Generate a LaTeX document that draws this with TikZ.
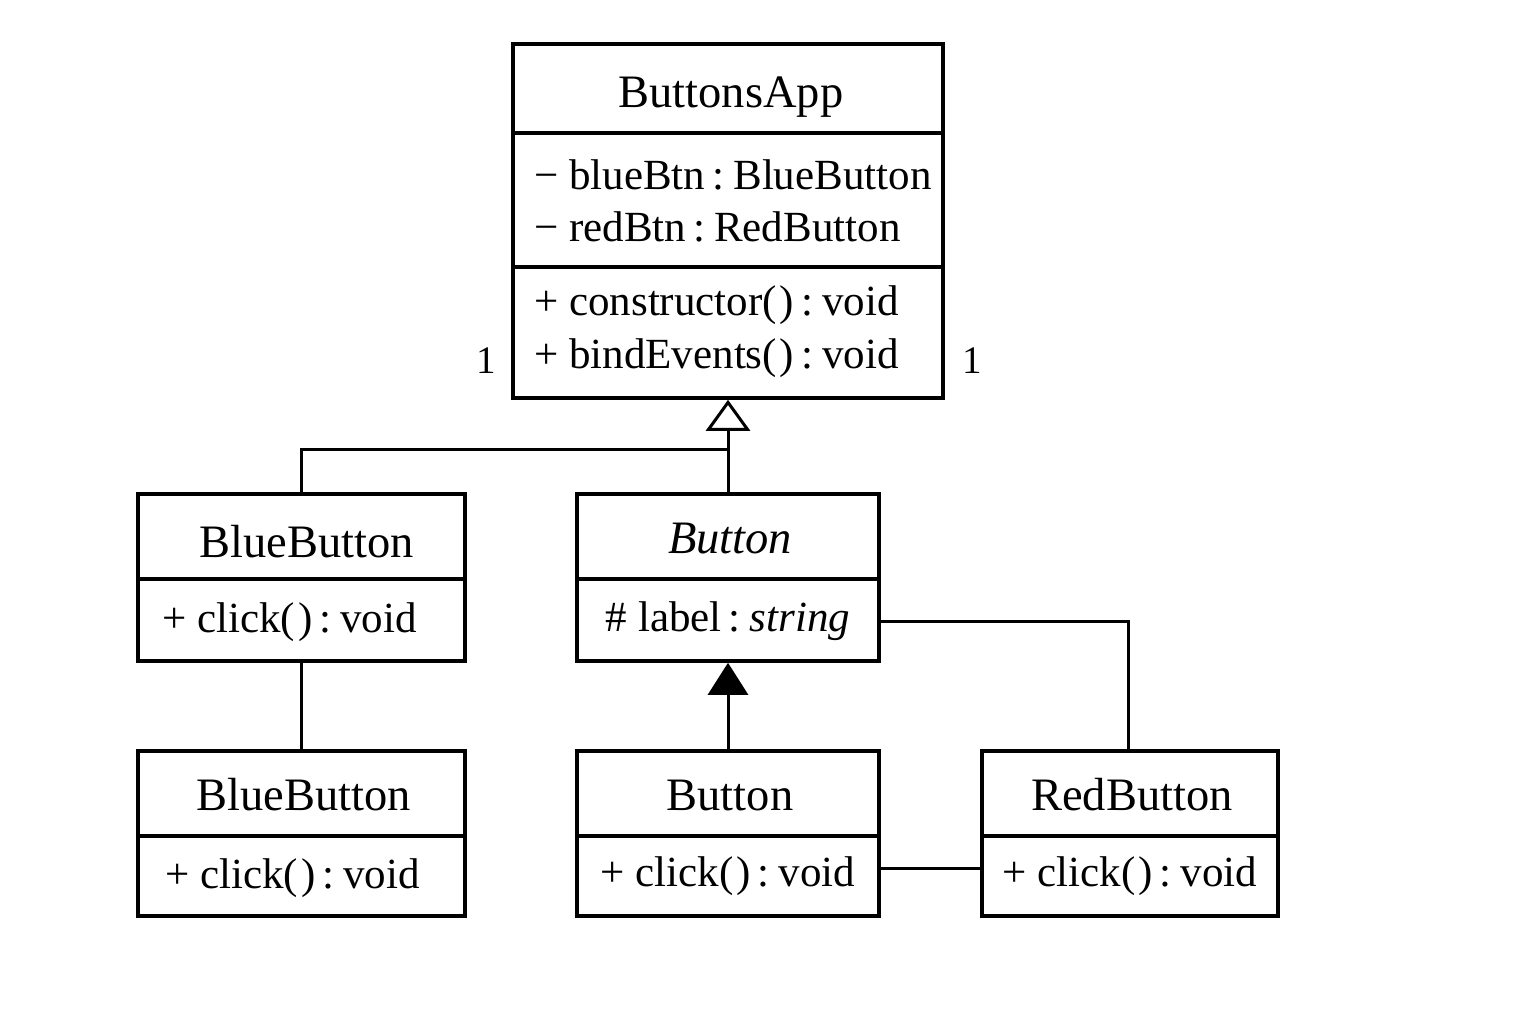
\documentclass[tikz,border=0pt]{standalone}
\usepackage{fontspec}
\setmainfont{Liberation Serif}
\usetikzlibrary{arrows.meta}
\newcommand\tfont{\fontsize{46.5}{52}\selectfont}
\newcommand\bfont{\fontsize{43}{48}\selectfont}
\newcommand\cl{\hspace{7pt}:\hspace{9pt}}
\newcommand\pr{(\kern3pt)}
\tikzset{
  box/.style={draw, line width=3.6pt, inner sep=0pt},
  txt/.style={inner sep=0pt, anchor=base west, font=\bfont},
  ttl/.style={inner sep=0pt, anchor=base, font=\tfont},
  mid/.style={inner sep=0pt, anchor=base, font=\bfont},
  conn/.style={line width=3pt},
}
\begin{document}
\begin{tikzpicture}[x=1pt,y=-1pt]
\fill[white] (0,0) rectangle (1536,1024);
\useasboundingbox (0,0) rectangle (1536,1024);

% ButtonsApp
\node[box, minimum width=430pt, minimum height=89pt] (appT) at (728,88.5) {};
\node[box, minimum width=430pt, minimum height=134pt] (appA) at (728,200) {};
\node[box, minimum width=430pt, minimum height=131pt] (appM) at (728,332.5) {};
\node[ttl] (appTt) at (731,108) {ButtonsApp};
\node[txt] (appA1) at (534,190) {− blueBtn\cl BlueButton};
\node[txt] (appA2) at (534,242) {− redBtn\cl RedButton};
\node[txt] (appM1) at (534,315) {+ constructor\pr\cl void};
\node[txt] (appM2) at (534,368) {+ bindEvents\pr\cl void};
\node[txt, font=\fontsize{39}{44}\selectfont] (m1) at (476,373) {1};
\node[txt, font=\fontsize{39}{44}\selectfont] (m2) at (962,373) {1};

% BlueButton (upper)
\node[box, minimum width=327pt, minimum height=85pt] (b1T) at (301.5,536.5) {};
\node[box, minimum width=327pt, minimum height=82pt] (b1M) at (301.5,620) {};
\node[ttl] (b1Tt) at (307,557) {BlueButton};
\node[txt] (b1Mt) at (162,632) {+ click\pr\cl void};

% Button (abstract)
\node[box, minimum width=302pt, minimum height=85pt] (baT) at (728,536.5) {};
\node[box, minimum width=302pt, minimum height=82pt] (baA) at (728,620) {};
\node[ttl] (baTt) at (730,553) {\itshape Button};
\node[mid] (baAt) at (728,631) {\# label\cl\textit{string}};

% BlueButton (lower)
\node[box, minimum width=327pt, minimum height=85pt] (b2T) at (301.5,793.5) {};
\node[box, minimum width=327pt, minimum height=80pt] (b2M) at (301.5,876) {};
\node[ttl] (b2Tt) at (304,810) {BlueButton};
\node[txt] (b2Mt) at (165,888) {+ click\pr\cl void};

% Button (lower)
\node[box, minimum width=302pt, minimum height=85pt] (bT) at (728,793.5) {};
\node[box, minimum width=302pt, minimum height=80pt] (bM) at (728,876) {};
\node[ttl] (bTt) at (730,810) {Button};
\node[mid] (bMt) at (728,886) {+ click\pr\cl void};

% RedButton
\node[box, minimum width=296pt, minimum height=85pt] (rT) at (1130,793.5) {};
\node[box, minimum width=296pt, minimum height=80pt] (rM) at (1130,876) {};
\node[ttl] (rTt) at (1132,810) {RedButton};
\node[mid] (rMt) at (1130,886) {+ click\pr\cl void};

% connectors
\coordinate (j) at (728,449);
\coordinate (rc) at (1128,621);
\draw[conn, -{Triangle[open, length=31pt, width=44pt, line width=3pt]}] (baT.north) -- (appM.south);
\draw[conn] (b1T.north) |- (j);
\draw[conn] (b1M.south) -- (b2T.north);
\draw[conn, -{Triangle[length=32pt, width=40pt]}] (bT.north) -- (baA.south);
\draw[conn] (baA.east |- rc) -- (rc) -- (rc |- rT.north);
\draw[conn] ([yshift=8pt]bM.east) -- ([yshift=8pt]rM.west);
\end{tikzpicture}
\end{document}
